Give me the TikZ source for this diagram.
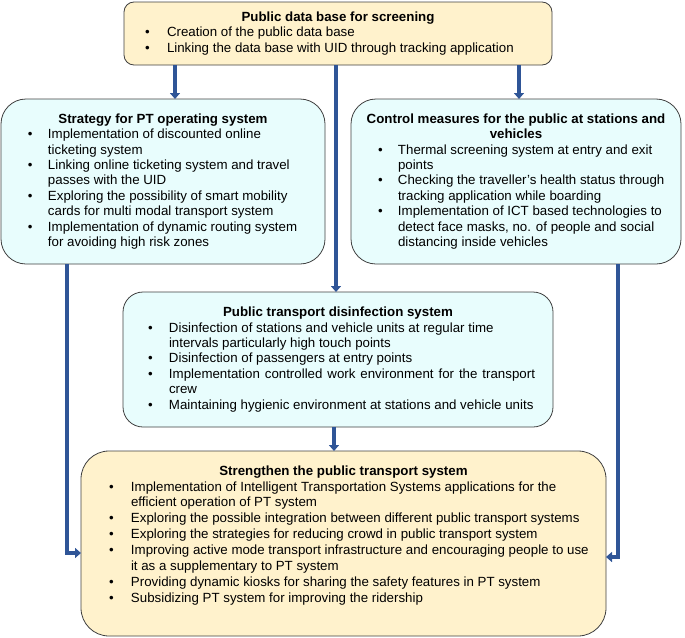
\documentclass[tikz,border=0pt]{standalone}
\usepackage{fontspec}
\setmainfont{Liberation Sans}
\usetikzlibrary{arrows.meta}
\definecolor{cream}{HTML}{FFF2CC}
\definecolor{cyanbg}{HTML}{E8FDFD}
\definecolor{edgegray}{HTML}{404040}
\definecolor{arrblue}{HTML}{2F5597}
\newlength\bx
\newlength\bsep
\newcommand\itm[1]{\par\begingroup\raggedright\let\\\newline\noindent
  \hangindent=\dimexpr\bx+\bsep\relax\hangafter=1
  \hspace*{\bx}\makebox[\bsep][l]{\textbullet}#1\par\endgroup}
\newcommand\ttl[1]{{\centering\bfseries #1\par}}
\tikzset{
  box/.style={draw=edgegray, line width=0.8pt, inner sep=0pt, outer sep=0pt,
    font=\fontsize{13.3}{15.4}\selectfont},
  arr/.style={draw=arrblue, line width=4pt, -{Triangle[width=10pt,length=6pt]}},
}
\begin{document}
\begin{tikzpicture}[x=1pt,y=-1pt]
\useasboundingbox (0,0) rectangle (685,637);
% boxes
\node[box, fill=cream, rounded corners=10pt, minimum width=428pt, minimum height=63pt] (top) at (338,33.5)
 {\begin{minipage}{428pt}\setlength\bx{21pt}\setlength\bsep{22pt}%
 \ttl{Public data base for screening}%
 \itm{Creation of the public data base}%
 \itm{Linking the data base with UID through tracking application}%
 \end{minipage}};
\node[box, fill=cyanbg, rounded corners=25pt, minimum width=324pt, minimum height=165pt] (left) at (163,181.5)
 {\begin{minipage}{324pt}\setlength\bx{27pt}\setlength\bsep{20pt}%
 \ttl{Strategy for PT operating system}%
 \itm{Implementation of discounted online\\ticketing system}%
 \itm{Linking online ticketing system and travel\\passes with the UID}%
 \itm{Exploring the possibility of smart mobility\\cards for multi modal transport system}%
 \itm{Implementation of dynamic routing system\\for avoiding high risk zones}%
 \end{minipage}};
\node[box, fill=cyanbg, rounded corners=25pt, minimum width=330pt, minimum height=165pt] (right) at (516,181.5)
 {\begin{minipage}{330pt}\setlength\bx{27pt}\setlength\bsep{20pt}%
 \ttl{Control measures for the public at stations and\\vehicles}%
 \itm{Thermal screening system at entry and exit\\points}%
 \itm{Checking the traveller’s health status through\\tracking application while boarding}%
 \itm{Implementation of ICT based technologies to\\detect face masks, no. of people and social\\distancing inside vehicles}%
 \end{minipage}};
\node[box, fill=cyanbg, rounded corners=20pt, minimum width=430pt, minimum height=135pt] (mid) at (338,359.5)
 {\begin{minipage}{430pt}\setlength\bx{25pt}\setlength\bsep{21pt}%
 \ttl{Public transport disinfection system}%
 \itm{Disinfection of stations and vehicle units at regular time\\intervals particularly high touch points}%
 \itm{Disinfection of passengers at entry points}%
 \itm{\makebox[366pt][s]{Implementation controlled work environment for the transport}\\crew}%
 \itm{Maintaining hygienic environment at stations and vehicle units}%
 \end{minipage}};
\node[box, fill=cream, rounded corners=28pt, minimum width=525pt, minimum height=185pt,
      font=\fontsize{13.3}{15.9}\selectfont] (bot) at (343.5,543.5)
 {\begin{minipage}[c][156pt][t]{525pt}\setlength\bx{28pt}\setlength\bsep{22pt}%
 \ttl{Strengthen the public transport system}%
 \itm{Implementation of Intelligent Transportation Systems applications for the\\efficient operation of PT system}%
 \itm{Exploring the possible integration between different public transport systems}%
 \itm{Exploring the strategies for reducing crowd in public transport system}%
 \itm{Improving active mode transport infrastructure and encouraging people to use\\it as a supplementary to PT system}%
 \itm{Providing dynamic kiosks for sharing the safety features in PT system}%
 \itm{Subsidizing PT system for improving the ridership}%
 \end{minipage}};
% connector guide coordinates
\coordinate (ax1) at (175,0);
\coordinate (ax2) at (336,0);
\coordinate (ax3) at (519,0);
\coordinate (ax4) at (334,0);
\coordinate (lx) at (67,553);
\coordinate (rx) at (618,557);
% connectors
\draw[arr] (top.south -| ax1) -- (left.north -| ax1);
\draw[arr] (top.south -| ax2) -- (mid.north -| ax2);
\draw[arr] (top.south -| ax3) -- (right.north -| ax3);
\draw[arr] (mid.south -| ax4) -- (bot.north -| ax4);
\draw[arr] (left.south -| lx) |- (bot.west |- lx);
\draw[arr] (right.south -| rx) |- (bot.east |- rx);
\end{tikzpicture}
\end{document}
